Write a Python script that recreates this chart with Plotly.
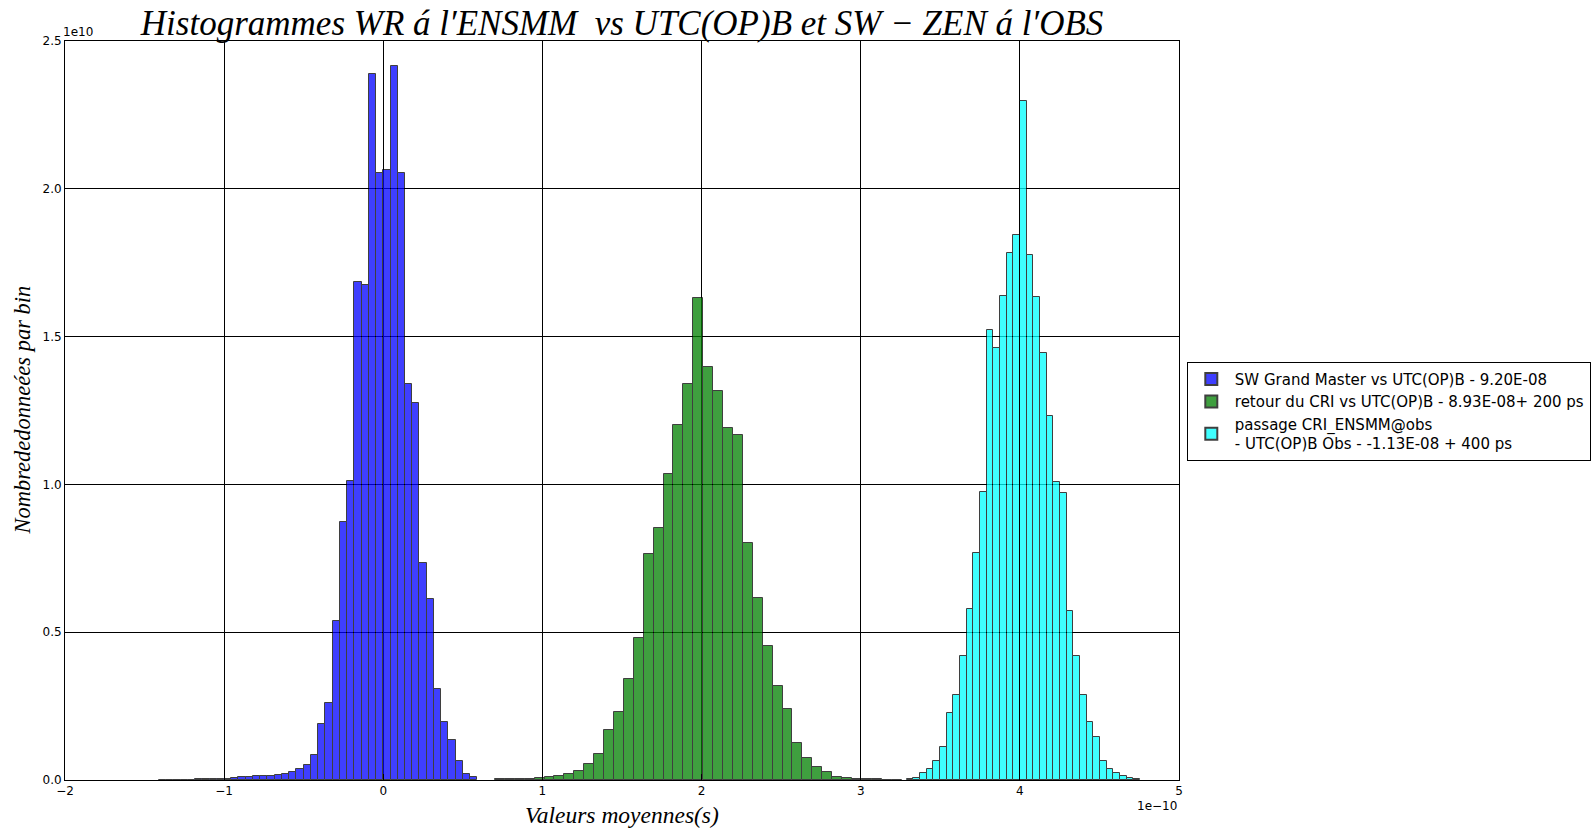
import numpy as np
import plotly.graph_objects as go

# ---- data (x in units of 1e-10 s, counts in units of 1e10) ----
blue_name = "SW Grand Master vs UTC(OP)B - 9.20E-08"
blue_start = -1.4105
blue_width = 0.0455
blue_counts = [0.0005, 0.0005, 0.001, 0.001, 0.001, 0.002, 0.002, 0.003, 0.003, 0.005,
               0.007, 0.009, 0.010, 0.012, 0.012, 0.015, 0.018, 0.020, 0.026, 0.038,
               0.052, 0.085, 0.191, 0.261, 0.537, 0.874, 1.011, 1.686, 1.676, 2.388,
               2.054, 2.064, 2.415, 2.054, 1.340, 1.276, 0.735, 0.611, 0.309, 0.195,
               0.136, 0.064, 0.022, 0.011]

green_name = "retour du CRI vs UTC(OP)B - 8.93E-08+ 200 ps"
green_start = 0.7020
green_width = 0.0623
green_counts = [0.002, 0.003, 0.005, 0.005, 0.007, 0.009, 0.014, 0.020, 0.030, 0.053,
                0.089, 0.169, 0.230, 0.342, 0.481, 0.763, 0.854, 1.035, 1.202, 1.341,
                1.629, 1.397, 1.316, 1.192, 1.167, 0.801, 0.616, 0.454, 0.317, 0.240,
                0.125, 0.073, 0.044, 0.026, 0.011, 0.006, 0.004, 0.003, 0.002, 0.001,
                0.001]

cyan_name = "passage CRI_ENSMM@obs<br>- UTC(OP)B Obs - -1.13E-08 + 400 ps"
cyan_start = 3.2877
cyan_width = 0.0419
cyan_counts = [0.003, 0.008, 0.024, 0.038, 0.065, 0.111, 0.226, 0.288, 0.420, 0.579,
               0.767, 0.975, 1.521, 1.460, 1.638, 1.784, 1.843, 2.296, 1.775, 1.634,
               1.443, 1.230, 1.009, 0.972, 0.572, 0.418, 0.286, 0.195, 0.145, 0.065,
               0.038, 0.024, 0.012, 0.006, 0.003]

x_ticks = [-2, -1, 0, 1, 2, 3, 4, 5]
y_ticks = [0.0, 0.5, 1.0, 1.5, 2.0, 2.5]

title_text = "Histogrammes WR á l′ENSMM  vs UTC(OP)B et SW − ZEN á l′OBS"
xlabel = "Valeurs moyennes(s)"
ylabel = "Nombrededonneées par bin"

series = [
    (blue_name, blue_start, blue_width, blue_counts, "#0000ff"),
    (green_name, green_start, green_width, green_counts, "#008000"),
    (cyan_name, cyan_start, cyan_width, cyan_counts, "#00ffff"),
]

fig = go.Figure()
for name, start, width, counts, color in series:
    n = len(counts)
    centers = start + (np.arange(n) + 0.5) * width
    fig.add_trace(go.Bar(
        x=centers, y=counts, width=width, name=name,
        marker=dict(color=color, line=dict(color="black", width=1)),
        opacity=0.75,
    ))

serif = "Liberation Serif"
fig.update_layout(
    width=1593, height=828,
    paper_bgcolor="white", plot_bgcolor="white",
    barmode="overlay", bargap=0,
    margin=dict(l=65, r=414, t=41, b=48, autoexpand=False),
    title=dict(text=title_text, x=0.3905, xanchor="center", y=0.972, yanchor="middle",
               font=dict(family=serif, size=35, color="black", style="italic")),
    showlegend=True,
    legend=dict(x=1.007, xanchor="left", y=0.566, yanchor="top",
                bordercolor="black", borderwidth=1, bgcolor="white",
                font=dict(family="DejaVu Sans", size=15, color="black"),
                itemsizing="constant", itemwidth=37, traceorder="normal", tracegroupgap=0),
    font=dict(family="DejaVu Sans", color="black"),
)

fig.update_xaxes(
    range=[-2, 5], tickvals=x_ticks, ticktext=[("−" if v < 0 else "") + str(abs(v)) for v in x_ticks],
    showgrid=True, gridcolor="black", gridwidth=1, automargin=False,
    showline=True, linecolor="black", linewidth=1, mirror="allticks",
    ticks="inside", ticklen=6, tickcolor="black", zeroline=False,
    tickfont=dict(family="DejaVu Sans", size=12, color="black"),
)
fig.update_yaxes(
    range=[0, 2.5], tickvals=y_ticks, ticktext=["%.1f" % v for v in y_ticks],
    showgrid=True, gridcolor="black", gridwidth=1, automargin=False,
    showline=True, linecolor="black", linewidth=1, mirror="allticks",
    ticks="inside", ticklen=6, tickcolor="black", zeroline=False,
    tickfont=dict(family="DejaVu Sans", size=12, color="black"),
)

# axis titles
fig.add_annotation(text=xlabel, xref="paper", yref="paper", x=0.5, y=-0.047,
                   xanchor="center", yanchor="middle", showarrow=False,
                   font=dict(family=serif, size=23.5, style="italic", color="black"))
fig.add_annotation(text=ylabel, xref="paper", yref="paper", x=-0.0385, y=0.5,
                   xanchor="center", yanchor="middle", showarrow=False, textangle=-90,
                   font=dict(family=serif, size=22.5, style="italic", color="black"))

# offset texts
fig.add_annotation(text="1e10", xref="paper", yref="paper", x=0.0, y=1.0,
                   xanchor="left", yanchor="bottom", showarrow=False, xshift=-4, yshift=0,
                   font=dict(family="DejaVu Sans", size=12, color="black"))
fig.add_annotation(text="1e−10", xref="paper", yref="paper", x=1.0, y=0.0,
                   xanchor="right", yanchor="top", showarrow=False, yshift=-17,
                   font=dict(family="DejaVu Sans", size=12, color="black"))

fig.write_html("out.html", config={"displayModeBar": False},
               post_script="document.body.style.margin='0px';document.body.style.overflow='hidden';")
